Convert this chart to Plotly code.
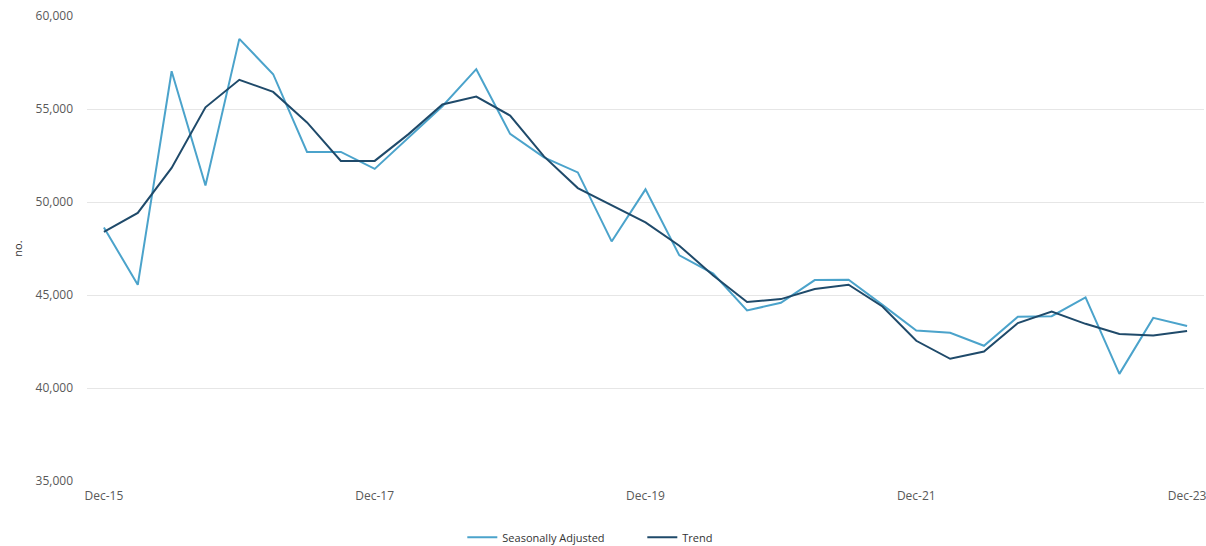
import plotly.graph_objects as go

quarters = []
for yr in range(15, 24):
    for m in ["Mar", "Jun", "Sep", "Dec"]:
        quarters.append(f"{m}-{yr:02d}")
# Dec-15 .. Dec-23 (33 quarters)
quarters = quarters[3:]
quarters = quarters[:33]

seasonally_adjusted = [48630, 45550, 57030, 50890, 58770, 56870, 52690, 52690, 51780, 53450,
                       55150, 57140, 53660, 52400, 51590, 47880, 50680, 47130, 46150, 44170,
                       44580, 45800, 45820, 44470, 43090, 42970, 42270, 43830, 43860, 44870,
                       40760, 43770, 43330]
trend = [48390, 49410, 51830, 55090, 56570, 55920, 54280, 52210, 52210, 53650,
         55240, 55670, 54650, 52450, 50750, 49820, 48900, 47650, 46050, 44620,
         44780, 45320, 45550, 44380, 42540, 41570, 41960, 43490, 44110, 43450,
         42900, 42820, 43060]

tick_labels = ["Dec-15", "Dec-17", "Dec-19", "Dec-21", "Dec-23"]
y_ticks = [35000, 40000, 45000, 50000, 55000, 60000]

fig = go.Figure()
fig.add_trace(go.Scatter(x=quarters, y=seasonally_adjusted, mode="lines",
                         name="Seasonally Adjusted",
                         line=dict(color="#4ba3cb", width=2)))
fig.add_trace(go.Scatter(x=quarters, y=trend, mode="lines", name="Trend",
                         line=dict(color="#1f4a6a", width=2)))

fig.update_layout(
    width=1206, height=546,
    margin=dict(l=87, r=2, t=16, b=65, autoexpand=False),
    paper_bgcolor="white", plot_bgcolor="white",
    font=dict(family="Open Sans, Noto Sans, sans-serif", color="#595959", size=12),
    showlegend=True,
    legend=dict(orientation="h", x=0.336, xanchor="left", y=-0.121, yanchor="middle",
                font=dict(size=11, color="#333333"),
                entrywidth=135, entrywidthmode="pixels"),
    hovermode=False,
)
fig.update_xaxes(type="category", range=[-0.5, 32.5], tickvals=tick_labels,
                 ticktext=tick_labels, showgrid=False, showline=False, ticks="",
                 ticklabelstandoff=6,
                 tickfont=dict(size=12, color="#595959"), zeroline=False)
fig.update_yaxes(range=[35000, 60000], tickvals=y_ticks, tickformat=",",
                 showgrid=True, gridcolor="#e6e6e6", gridwidth=1, zeroline=False,
                 showline=False, ticks="", ticklabelstandoff=13,
                 tickfont=dict(size=12, color="#595959"),
                 title=dict(text="no.", font=dict(size=11, color="#333333"), standoff=10))

fig.write_html("out.html")
